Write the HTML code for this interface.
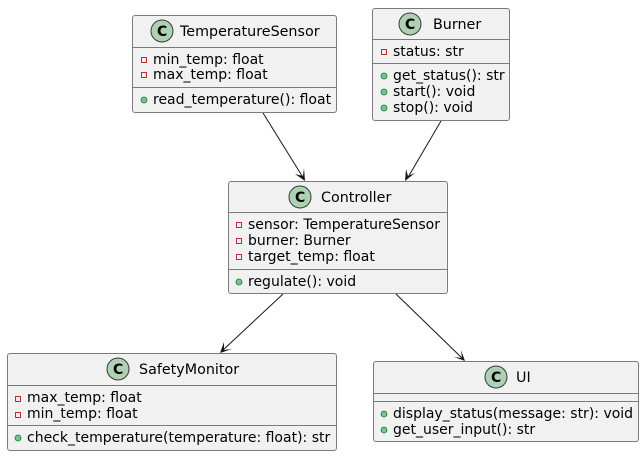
<!DOCTYPE html>
<html><head><meta charset="utf-8"><style>
html,body{margin:0;padding:0;background:#fff;}
svg{display:block;}
text{font-family:"DejaVu Sans","Liberation Sans",sans-serif;font-size:14px;fill:#000;}
.n{font-size:14.3px;}
.b{fill:#F1F1F1;stroke:#7a7a7a;stroke-width:1;}
.d{stroke:#7a7a7a;stroke-width:1;}
.p{fill:none;stroke:#C82930;stroke-width:1;}
.g{fill:#84BE84;stroke:#038048;stroke-width:0.8;}
.c{fill:#ADD1B2;stroke:#3a3a3a;stroke-width:1;}
.ct{font-size:14px;font-weight:bold;}
.l{stroke:#181818;stroke-width:1;fill:none;}
.a{fill:#181818;}
</style></head><body>
<svg width="643" height="456" viewBox="0 0 643 456" xmlns="http://www.w3.org/2000/svg">
<line class="l" x1="263" y1="113" x2="304" y2="179"/>
<polygon class="a" points="305,181 295,174 303,176 304,168"/>
<line class="l" x1="441" y1="121" x2="407" y2="179"/>
<polygon class="a" points="405,181 406,169 408,176 415,173"/>
<line class="l" x1="283" y1="294" x2="222" y2="351"/>
<polygon class="a" points="220,353 224,342 224,350 232,349"/>
<line class="l" x1="396" y1="294" x2="463" y2="359"/>
<polygon class="a" points="465,361 454,357 462,358 461,350"/>

<rect class="b" x="132.5" y="15.5" width="204" height="97" rx="2.5"/>
<line class="d" x1="132.5" y1="47.5" x2="336.5" y2="47.5"/>
<line class="d" x1="132.5" y1="87.5" x2="336.5" y2="87.5"/>
<circle class="c" cx="162" cy="31" r="11"/><text class="ct" x="157" y="36">C</text>
<text class="n" x="180" y="36">TemperatureSensor</text>
<rect class="p" x="141.5" y="57.5" width="5" height="5"/><text x="153" y="64">min_temp: float</text>
<rect class="p" x="141.5" y="72.5" width="5" height="5"/><text x="153" y="79">max_temp: float</text>
<circle class="g" cx="144" cy="100" r="3"/><text x="153" y="104">read_temperature(): float</text>

<rect class="b" x="372.5" y="8.5" width="137" height="112" rx="2.5"/>
<line class="d" x1="372.5" y1="39.5" x2="509.5" y2="39.5"/>
<line class="d" x1="372.5" y1="63.5" x2="509.5" y2="63.5"/>
<circle class="c" cx="410" cy="24" r="11"/><text class="ct" x="405" y="29">C</text>
<text class="n" x="433" y="29">Burner</text>
<rect class="p" x="381.5" y="49.5" width="5" height="5"/><text x="393" y="56">status: str</text>
<circle class="g" cx="384" cy="76" r="3"/><text x="393" y="80">get_status(): str</text>
<circle class="g" cx="384" cy="92" r="3"/><text x="393" y="96">start(): void</text>
<circle class="g" cx="384" cy="108" r="3"/><text x="393" y="112">stop(): void</text>

<rect class="b" x="228.5" y="181.5" width="219" height="112" rx="2.5"/>
<line class="d" x1="228.5" y1="212.5" x2="447.5" y2="212.5"/>
<line class="d" x1="228.5" y1="269.5" x2="447.5" y2="269.5"/>
<circle class="c" cx="300" cy="197" r="11"/><text class="ct" x="295" y="202">C</text>
<text class="n" x="321" y="202">Controller</text>
<rect class="p" x="236.5" y="222.5" width="5" height="5"/><text x="248" y="229">sensor: TemperatureSensor</text>
<rect class="p" x="236.5" y="238.5" width="5" height="5"/><text x="248" y="245">burner: Burner</text>
<rect class="p" x="236.5" y="254.5" width="5" height="5"/><text x="248" y="261">target_temp: float</text>
<circle class="g" cx="239" cy="282" r="3"/><text x="248" y="286">regulate(): void</text>

<rect class="b" x="7.5" y="353.5" width="329" height="97" rx="2.5"/>
<line class="d" x1="7.5" y1="385.5" x2="336.5" y2="385.5"/>
<line class="d" x1="7.5" y1="425.5" x2="336.5" y2="425.5"/>
<circle class="c" cx="118" cy="369" r="11"/><text class="ct" x="113" y="374">C</text>
<text class="n" x="139" y="374">SafetyMonitor</text>
<rect class="p" x="15.5" y="396.5" width="5" height="5"/><text x="27" y="402">max_temp: float</text>
<rect class="p" x="15.5" y="412.5" width="5" height="5"/><text x="27" y="418">min_temp: float</text>
<circle class="g" cx="18" cy="438" r="3"/><text x="27" y="442">check_temperature(temperature: float): str</text>

<rect class="b" x="373.5" y="361.5" width="265" height="80" rx="2.5"/>
<line class="d" x1="373.5" y1="393.5" x2="638.5" y2="393.5"/>
<line class="d" x1="373.5" y1="401.5" x2="638.5" y2="401.5"/>
<circle class="c" cx="496" cy="377" r="11"/><text class="ct" x="491" y="382">C</text>
<text class="n" x="516" y="382">UI</text>
<circle class="g" cx="384" cy="414" r="3"/><text x="393" y="418">display_status(message: str): void</text>
<circle class="g" cx="384" cy="430" r="3"/><text x="393" y="434">get_user_input(): str</text>
</svg>
</body></html>
